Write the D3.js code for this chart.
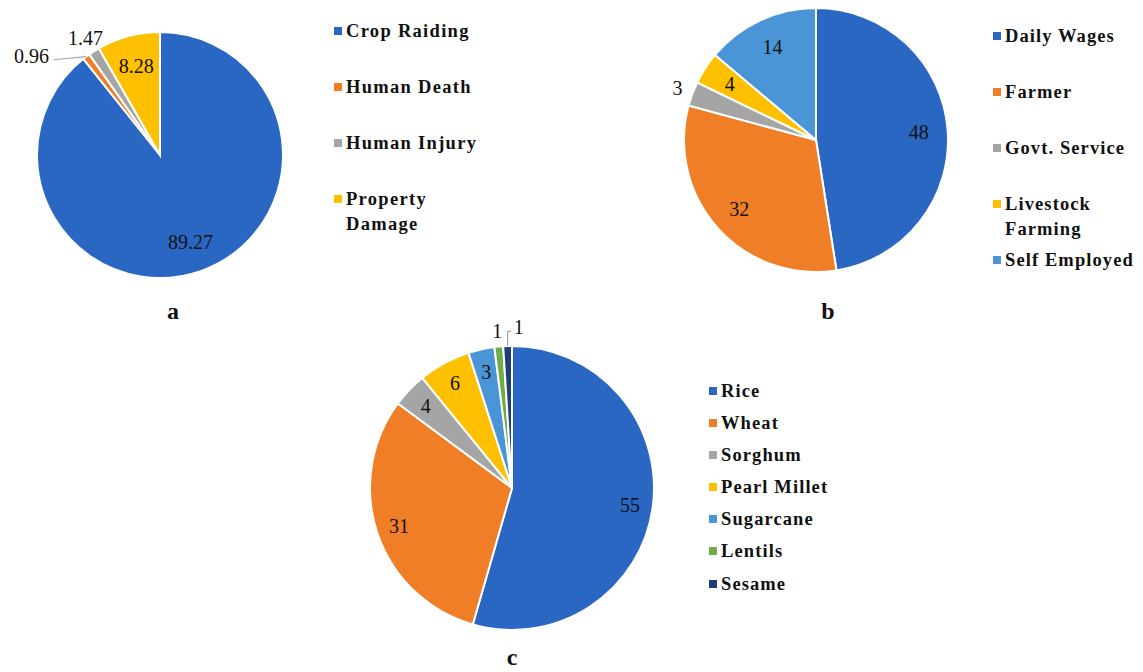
<!DOCTYPE html>
<html><head><meta charset="utf-8">
<script src="https://cdn.jsdelivr.net/npm/d3@7"></script>
<style>
body{margin:0;background:#fff;}
svg{display:block;font-family:"Liberation Serif","Times New Roman",serif;}
</style></head>
<body><svg id="chart" width="1143" height="672"></svg>
<script>
// ---- data ----
const conflictTypes = ["Crop Raiding","Human Death","Human Injury","Property Damage"];
const conflictValues = [89.27,0.96,1.47,8.28];
const occupations = ["Daily Wages","Farmer","Govt. Service","Livestock Farming","Self Employed"];
const occupationValues = [48,32,3,4,14];
const crops = ["Rice","Wheat","Sorghum","Pearl Millet","Sugarcane","Lentils","Sesame"];
const cropValues = [55,31,4,6,3,1,1];
const panelLabels = ["a","b","c"];

const palette = ["#2a67c3","#f07e26","#a5a5a5","#ffc000","#4a95d6","#6ead46","#1f3f73"];
const svg = d3.select("#chart");

function drawPie(opt){
  const g = svg.append("g").attr("transform",`translate(${opt.cx},${opt.cy})`);
  const color = d3.scaleOrdinal().domain(opt.cats).range(palette);
  const pie = d3.pie().sort(null).value(d=>d.v);
  const data = pie(opt.cats.map((c,i)=>({c, v:opt.vals[i]})));
  const arc = d3.arc().innerRadius(0).outerRadius(opt.r);
  g.selectAll("path.slice").data(data).join("path")
    .attr("class","slice").attr("d",arc)
    .attr("fill",d=>color(d.data.c)).attr("stroke","#fff").attr("stroke-width",2);
  const inside = data.filter(d=>d.data.v>=opt.outsideBelow);
  const inArc = d3.arc().innerRadius(opt.r*opt.labelR).outerRadius(opt.r*opt.labelR);
  g.selectAll("text.in").data(inside).join("text")
    .attr("class","in")
    .attr("x",d=>inArc.centroid(d)[0]).attr("y",d=>inArc.centroid(d)[1])
    .attr("text-anchor","middle").attr("dominant-baseline","central")
    .attr("font-size",20).attr("fill","#111").text(d=>d.data.v);
  // outside labels
  const outside = data.filter(d=>d.data.v<opt.outsideBelow).map(d=>{
    const a=(d.startAngle+d.endAngle)/2;
    const x=Math.sin(a)*opt.r*opt.outR, y=-Math.cos(a)*opt.r*opt.outR;
    return {d, a, ex:Math.sin(a)*opt.r, ey:-Math.cos(a)*opt.r, x, y, x0:x, y0:y,
      w:String(d.data.v).length*9.5};
  });
  // resolve collisions
  if(opt.push==="left"){
    for(let i=outside.length-2;i>=0;i--){
      const n=outside[i+1], o=outside[i];
      if(Math.abs(o.y-n.y)<20 && o.x+o.w/2 > n.x-n.w/2-opt.gap){
        o.x = n.x-n.w/2-opt.gap-o.w/2; o.y += opt.drop;
      }
    }
  } else {
    for(let i=1;i<outside.length;i++){
      const p=outside[i-1], o=outside[i];
      if(Math.abs(o.y-p.y)<20 && o.x-o.w/2 < p.x+p.w/2+opt.gap){
        o.x = p.x+p.w/2+opt.gap+o.w/2; o.y += opt.drop;
      }
    }
  }
  const moved = outside.filter(o=>Math.hypot(o.x-o.x0,o.y-o.y0)>8);
  g.selectAll("polyline.lead").data(moved).join("polyline")
    .attr("class","lead").attr("fill","none").attr("stroke","#a6a6a6").attr("stroke-width",1.2)
    .attr("points",o=>{
      const side = o.x<o.ex ? o.x+o.w/2+3 : o.x-o.w/2-3;
      if(opt.leaderStyle==="elbow") return `${o.ex},${o.ey} ${o.ex},${o.y+4} ${side},${o.y+4}`;
      return `${o.ex},${o.ey} ${side},${o.y+4}`;
    });
  g.selectAll("text.out").data(outside).join("text")
    .attr("class","out").attr("x",o=>o.x).attr("y",o=>o.y)
    .attr("text-anchor","middle").attr("dominant-baseline","central")
    .attr("font-size",20).attr("fill","#111").text(o=>o.d.data.v);

  // legend
  const lg = svg.append("g").attr("transform",`translate(${opt.lx},${opt.ly})`);
  opt.cats.forEach((c,i)=>{
    const row = lg.append("g").attr("transform",`translate(0,${opt.lyStep[i]})`);
    row.append("rect").attr("x",0).attr("y",-4).attr("width",8).attr("height",8).attr("fill",color(c));
    const lines = opt.wrap[c] || [c];
    lines.forEach((t,j)=>{
      row.append("text").attr("x",12).attr("y",j*25)
        .attr("dominant-baseline","central").attr("font-weight","bold")
        .attr("font-size",opt.lfs).attr("letter-spacing",opt.ls).attr("fill","#111").text(t);
    });
  });
  svg.append("text").attr("x",opt.capX).attr("y",opt.capY)
    .attr("text-anchor","middle").attr("dominant-baseline","central")
    .attr("font-weight","bold").attr("font-size",24).attr("fill","#111").text(opt.caption);
}

drawPie({cats:conflictTypes, vals:conflictValues, cx:160, cy:155, r:123,
  labelR:0.75, outsideBelow:2, outR:1.13, gap:16, drop:12, push:"left", leaderStyle:"straight",
  lx:334, ly:31, lyStep:[0,56,112,168], wrap:{"Property Damage":["Property","Damage"]},
  lfs:18.5, ls:1.3, capX:173, capY:311, caption:panelLabels[0]});

drawPie({cats:occupations, vals:occupationValues, cx:816, cy:140, r:132,
  labelR:0.78, outsideBelow:3.5, outR:1.12, gap:10, drop:0, push:"left", leaderStyle:"straight",
  lx:993, ly:36, lyStep:[0,56,112,168,224], wrap:{"Livestock Farming":["Livestock","Farming"]},
  lfs:18.5, ls:1.1, capX:828, capY:311, caption:panelLabels[1]});

drawPie({cats:crops, vals:cropValues, cx:512, cy:488, r:142,
  labelR:0.84, outsideBelow:2, outR:1.11, gap:12, drop:-3, push:"right", leaderStyle:"elbow",
  lx:709, ly:391, lyStep:[0,32,64,96,128,160,193], wrap:{},
  lfs:18.5, ls:1.1, capX:512, capY:657, caption:panelLabels[2]});
</script></body></html>
